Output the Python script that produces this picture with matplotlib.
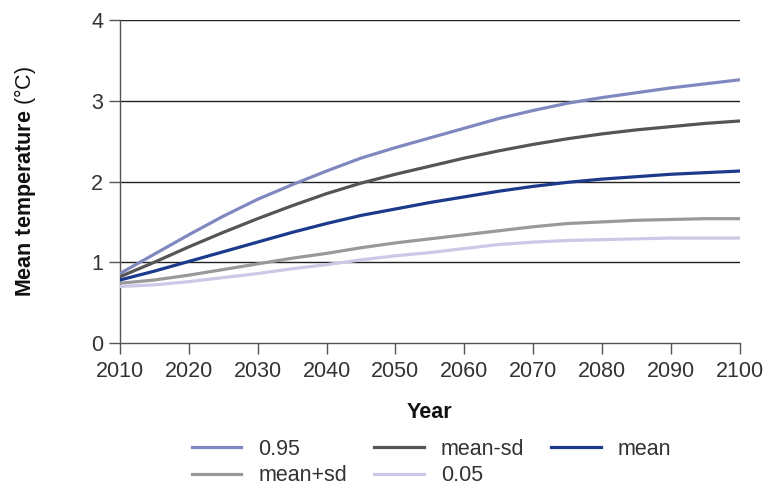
import numpy as np
import matplotlib.pyplot as plt

plt.rcParams['font.family'] = ['Liberation Sans', 'DejaVu Sans']
plt.rcParams['mathtext.fontset'] = 'custom'
plt.rcParams['mathtext.bf'] = 'Liberation Sans:bold'
plt.rcParams['mathtext.rm'] = 'Liberation Sans'

years = [2010, 2015, 2020, 2025, 2030, 2035, 2040, 2045, 2050, 2055,
         2060, 2065, 2070, 2075, 2080, 2085, 2090, 2095, 2100]
q95 = [0.86, 1.10, 1.34, 1.57, 1.78, 1.96, 2.13, 2.29, 2.42, 2.54,
       2.66, 2.78, 2.88, 2.97, 3.04, 3.10, 3.16, 3.21, 3.26]
mean_minus_sd = [0.82, 1.00, 1.19, 1.37, 1.54, 1.70, 1.85, 1.98, 2.09, 2.19,
                 2.29, 2.38, 2.46, 2.53, 2.59, 2.64, 2.68, 2.72, 2.75]
mean = [0.78, 0.89, 1.01, 1.13, 1.25, 1.37, 1.48, 1.58, 1.66, 1.74,
        1.81, 1.88, 1.94, 1.99, 2.03, 2.06, 2.09, 2.11, 2.13]
mean_plus_sd = [0.74, 0.78, 0.84, 0.91, 0.98, 1.05, 1.11, 1.18, 1.24, 1.29,
                1.34, 1.39, 1.44, 1.48, 1.50, 1.52, 1.53, 1.54, 1.54]
q05 = [0.70, 0.72, 0.76, 0.81, 0.86, 0.92, 0.97, 1.03, 1.08, 1.12,
       1.17, 1.22, 1.25, 1.27, 1.28, 1.29, 1.30, 1.30, 1.30]
xticks = [2010, 2020, 2030, 2040, 2050, 2060, 2070, 2080, 2090, 2100]

fig = plt.figure(figsize=(7.68, 4.92), dpi=100)
ax = fig.add_axes([0.156, 0.3028, 0.8075, 0.6565])

txt = '#333333'
fs = 15.5
for v in [1, 2, 3, 4]:
    ax.axhline(v, color='#222222', lw=1.0, zorder=1)

lw = 2.3
l1, = ax.plot(years, q95, color='#8088c0', lw=lw, label='0.95', zorder=3)
l2, = ax.plot(years, mean_minus_sd, color='#555555', lw=lw, label='mean-sd', zorder=3)
l3, = ax.plot(years, mean, color='#1b3a8c', lw=lw, label='mean', zorder=3)
l4, = ax.plot(years, mean_plus_sd, color='#999999', lw=lw, label='mean+sd', zorder=3)
l5, = ax.plot(years, q05, color='#cacae6', lw=lw, label='0.05', zorder=3)

ax.set_xlim(2010, 2100)
ax.set_ylim(0, 4)
ax.set_xticks(xticks)
ax.set_yticks([0, 1, 2, 3, 4])
for s in ['top', 'right']:
    ax.spines[s].set_visible(False)
for s in ['left', 'bottom']:
    ax.spines[s].set_color('#555555')
    ax.spines[s].set_linewidth(1.0)
ax.tick_params(axis='both', direction='out', length=8, width=1.0, color='#555555',
               labelsize=fs, labelcolor=txt)
ax.tick_params(axis='x', pad=5)
ax.tick_params(axis='y', pad=4)

ax.set_xlabel('Year', fontsize=fs, fontweight='bold', color='#111111', labelpad=14)
ax.set_ylabel(r'$\bf{Mean\ temperature}$ (°C)', fontsize=fs, color='#111111', labelpad=38)

fig.legend([l1, l4, l2, l5, l3], ['0.95', 'mean+sd', 'mean-sd', '0.05', 'mean'],
           ncol=3, loc='center', bbox_to_anchor=(0.562, 0.06), frameon=False,
           fontsize=fs, handlelength=2.3, columnspacing=1.25, labelspacing=0.25,
           handletextpad=0.8, labelcolor=txt, borderpad=0.2)

fig.savefig('out.png', dpi=100)
